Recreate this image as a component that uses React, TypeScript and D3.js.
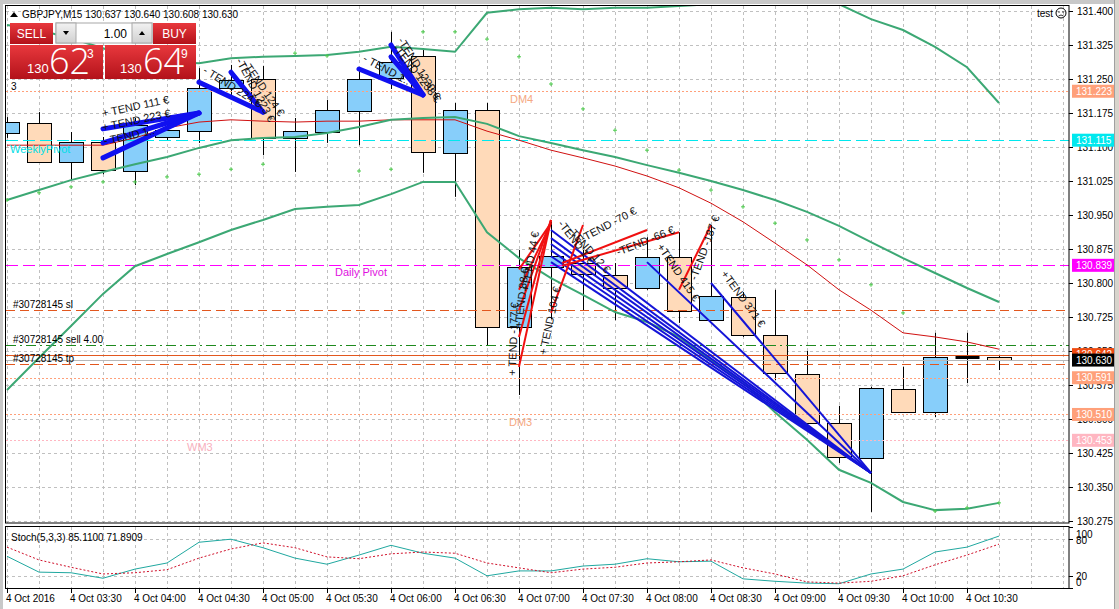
import React from 'react';
import * as d3 from 'd3';

const barTimes = ['03:00','03:15','03:30','03:45','04:00','04:15','04:30','04:45','05:00','05:15','05:30','05:45','06:00','06:15','06:30','06:45','07:00','07:15','07:30','07:45','08:00','08:15','08:30','08:45','09:00','09:15','09:30','09:45','10:00','10:15','10:30','10:45'];
const openP = [131.131,131.153,131.067,131.111,131.047,131.122,131.135,131.230,131.250,131.120,131.133,131.179,131.252,131.301,131.087,131.182,130.703,130.835,130.844,130.818,130.789,130.857,130.718,130.769,130.685,130.599,130.491,130.414,130.566,130.515,130.636,130.637];
const highP = [131.166,131.177,131.133,131.122,131.164,131.155,131.274,131.281,131.279,131.164,131.204,131.270,131.354,131.318,131.197,131.197,130.873,130.935,130.873,130.844,130.901,130.912,130.928,130.780,130.785,130.650,130.529,130.571,130.615,130.690,130.690,130.640];
const lowP = [131.120,131.065,131.027,131.040,131.016,131.115,131.109,131.215,131.082,131.045,131.109,131.104,131.228,131.043,130.990,130.663,130.553,130.720,130.740,130.718,130.785,130.712,130.718,130.681,130.586,130.476,130.403,130.295,130.515,130.504,130.579,130.608];
const closeP = [131.155,131.067,131.111,131.049,131.149,131.137,131.230,131.248,131.120,131.135,131.182,131.250,131.287,131.089,131.182,130.703,130.835,130.860,130.820,130.789,130.857,130.738,130.771,130.685,130.601,130.491,130.416,130.568,130.515,130.637,130.636,130.630];

const bbUpper = [131.369,131.358,131.340,131.318,131.296,131.288,131.285,131.296,131.299,131.301,131.303,131.310,131.321,131.316,131.310,131.396,131.404,131.407,131.404,131.407,131.407,131.411,131.415,131.422,131.426,131.431,131.415,131.382,131.358,131.321,131.276,131.197];
const bbMiddle = [130.983,131.005,131.027,131.045,131.062,131.078,131.098,131.115,131.120,131.122,131.131,131.144,131.160,131.164,131.166,131.151,131.124,131.109,131.093,131.078,131.060,131.043,131.025,131.005,130.983,130.957,130.926,130.890,130.855,130.822,130.789,130.758];
const bbLower = [130.564,130.635,130.705,130.776,130.837,130.864,130.890,130.917,130.939,130.963,130.968,130.972,130.996,131.023,131.023,130.912,130.855,130.811,130.774,130.736,130.714,130.681,130.630,130.582,130.515,130.454,130.388,130.359,130.317,130.299,130.302,130.315];
const maRed = [131.104,131.104,131.104,131.104,131.120,131.142,131.155,131.160,131.157,131.155,131.157,131.157,131.160,131.160,131.160,131.135,131.115,131.093,131.076,131.058,131.036,131.010,130.976,130.935,130.888,130.840,130.785,130.740,130.690,130.681,130.670,130.654];
const sarDots = [130.983,130.999,131.012,131.023,131.023,131.034,131.040,131.051,131.062,131.307,131.301,131.047,131.051,131.354,131.354,131.338,131.299,131.239,131.184,131.137,131.093,131.049,131.005,130.968,130.932,130.895,130.851,130.796,130.734,130.297,130.304,130.315];

const stochK = [52,26,25,16,31,41,75,80,66,49,39,54,70,57,49,20,28,28,36,39,48,43,44,15,11,8,7,23,31,59,67,85.11];
const stochD = [67,46,34,23,25,30,49,64,74,66,51,48,56,59,57,41,33,25,31,34,41,43,46,33,23,10,8,11,20,38,54,71.89];

const priceTicks = ['131.400','131.325','131.250','131.175','131.100','131.025','130.950','130.875','130.800','130.725','130.650','130.575','130.500','130.425','130.350','130.275'];
const timeTickBars = [0,2,4,6,8,10,12,14,16,18,20,22,24,26,28,30];
const timeTickLabels = ['4 Oct 2016','4 Oct 03:30','4 Oct 04:00','4 Oct 04:30','4 Oct 05:00','4 Oct 05:30','4 Oct 06:00','4 Oct 06:30','4 Oct 07:00','4 Oct 07:30','4 Oct 08:00','4 Oct 08:30','4 Oct 09:00','4 Oct 09:30','4 Oct 10:00','4 Oct 10:30'];

const levelValues = [131.223, 131.115, 130.839, 130.591, 130.510, 130.453];
const levelColors = ['#FFA07A', '#00E8EE', '#FF00FF', '#FFA07A', '#FFA07A', '#FFB6C1'];
const levelNames = ['DM4', 'WeeklyPivot', 'Daily Pivot', '', 'DM3', 'WM3'];

const orderValues = [130.740, 130.663, 130.621];
const orderNames = ['#30728145 sl', '#30728145 sell 4.00', '#30728145 tp'];
const askPrice = 130.642;
const bidPrice = 130.630;

// trend objects: [barFrom, priceFrom, barTo, priceTo]
const blueThick = [
  [3,131.140,6,131.175],[3,131.109,6,131.175],[3,131.076,6,131.175],
  [6,131.243,8,131.177],[7,131.265,8,131.177],
  [11,131.272,13,131.215],[12,131.325,13,131.215],[12,131.299,13,131.215],
];
const redTrend = [
  [16,130.615,17,130.939],[16,130.681,17,130.939],[16,130.740,17,130.939],[16,130.785,17,130.932],[16,130.830,17,130.932],
  [17,130.734,18,130.928],[17.35,130.844,20,130.917],[17.35,130.838,21,130.912],[21,130.785,22,130.928],
];
const blueTrend = [
  [17,130.917,27,130.381],[17,130.899,27,130.381],[17,130.886,27,130.381],[17,130.872,27,130.381],[17,130.859,27,130.381],[17,130.846,27,130.381],
  [20,130.846,27,130.381],[22,130.800,27,130.381],
];
// text objects: [bar, price, angle, text]
const tendTexts: [number, number, number, string][] = [
  [3,131.166,-12,'+ TEND 111 €'],[3,131.135,-12,'+ TEND 223 €'],[3.05,131.105,-12,'- TEND 1..'],
  [6.1,131.265,32,'- TEND 224 €'],[7.15,131.290,62,'-TEND 1223 €'],[7.35,131.282,55,'-TEND 124 €'],
  [11.1,131.290,28,'- TEND 1..'],[12.2,131.335,58,'-TEND 1230 €'],[12.05,131.318,52,'-TEND 1238 €'],
  [15.9,130.595,-88,'+ TEND -177 €'],[16.1,130.700,-84,'+TEND 88 €'],[16.3,130.780,-80,'+TEND 44 €'],
  [16.85,130.640,-78,'+ TEND 104 €'],[17.2,130.930,52,'-TEND 1 €'],[17.5,130.915,48,'-TEND 12 €'],
  [18.0,130.890,-28,'-TEND -70 €'],[19.1,130.860,-22,'-TEND -66 €'],
  [20.3,130.880,56,'+TEND 415 €'],[21.55,130.805,-70,'-TEND -187 €'],[22.3,130.820,54,'+TEND 371 €'],
];

const FONT = "'Liberation Sans', Arial, sans-serif";

export default function App() {
  const x = d3.scaleLinear().domain([0, 31]).range([7, 999]);
  const y = d3.scaleLinear().domain([130.275, 131.4]).range([521, 11]);
  const ys = d3.scaleLinear().domain([0, 100]).range([588, 527]);
  const L = 6, R = 1069, T = 6, B = 523;
  const pLine = (arr: number[]) => d3.line<number>().x((_, i) => x(i)).y(d => y(d))(arr) || '';
  const sLine = (arr: number[]) => d3.line<number>().x((_, i) => x(i)).y(d => ys(d))(arr) || '';
  const gridBars = d3.range(0, 34);

  const box = (v: number, bg: string, fg: string, key: string) => (
    <g key={key}>
      <rect x={1072} y={y(v) - 6.5} width={42} height={13} fill={bg} />
      <text x={1076} y={y(v) + 3.5} fill={fg} fontSize={10} fontFamily={FONT}>{v.toFixed(3)}</text>
    </g>
  );

  return (
    <svg width={1119} height={609} style={{ position: 'absolute', left: 0, top: 0, display: 'block' }} fontFamily={FONT}>
      <defs>
        <clipPath id="mainClip"><rect x={L} y={T} width={R - L} height={B - T} /></clipPath>
        <clipPath id="stochClip"><rect x={L} y={527} width={R - L} height={61} /></clipPath>
        <linearGradient id="redG" x1="0" y1="0" x2="0" y2="1">
          <stop offset="0" stopColor="#E8383D" />
          <stop offset="1" stopColor="#B3121A" />
        </linearGradient>
        <linearGradient id="grayG" x1="0" y1="0" x2="0" y2="1">
          <stop offset="0" stopColor="#F2F2F2" />
          <stop offset="1" stopColor="#D0D0D0" />
        </linearGradient>
      </defs>
      <rect x={0} y={0} width={1119} height={609} fill="#fff" />
      {/* window frame */}
      <rect x={0} y={0} width={1119} height={4} fill="#C8C8C8" />
      <rect x={0} y={0} width={3} height={609} fill="#C8C8C8" />
      <rect x={1114} y={0} width={5} height={609} fill="#D8D4CC" />
      <line x1={1114.5} x2={1114.5} y1={0} y2={609} stroke="#A0A0A0" />

      {/* main grid */}
      <g clipPath="url(#mainClip)">
        {priceTicks.map(t => (
          <line key={t} x1={L} x2={R} y1={Math.round(y(+t)) + 0.5} y2={Math.round(y(+t)) + 0.5} stroke="#C0C0C0" strokeDasharray="3,3" />
        ))}
        {gridBars.map(i => (
          <line key={i} x1={x(i) + 0.5} x2={x(i) + 0.5} y1={T} y2={B} stroke="#C0C0C0" strokeDasharray="3,3" />
        ))}
      </g>

      {/* candles */}
      <g clipPath="url(#mainClip)">
        {openP.map((o, i) => {
          const c = closeP[i];
          const cx = Math.round(x(i)) + 0.5;
          const top = Math.round(y(Math.max(o, c))) + 0.5;
          const bot = Math.round(y(Math.min(o, c))) + 0.5;
          const doji = Math.abs(c - o) < 0.002;
          return (
            <g key={barTimes[i]}>
              <line x1={cx} x2={cx} y1={y(highP[i])} y2={y(lowP[i])} stroke="#000" />
              {doji
                ? <line x1={cx - 12} x2={cx + 12} y1={top} y2={top} stroke="#000" strokeWidth={3} />
                : <rect x={cx - 12} y={top} width={24} height={Math.max(1, bot - top)} fill={c > o ? '#87CEFA' : '#FFDAB9'} stroke="#000" />}
            </g>
          );
        })}
      </g>

      {/* levels */}
      <g clipPath="url(#mainClip)">
        {levelValues.map((v, k) => (
          <line key={v} x1={L} x2={R} y1={Math.round(y(v)) + 0.5} y2={Math.round(y(v)) + 0.5}
            stroke={levelColors[k]} strokeWidth={1}
            strokeDasharray={levelNames[k].includes('Pivot') ? '12,5' : '2,2'} />
        ))}
        {orderValues.map((v, k) => (
          <line key={v} x1={L} x2={R} y1={Math.round(y(v)) + 0.5} y2={Math.round(y(v)) + 0.5}
            stroke={k === 1 ? '#1E8A1E' : '#E2571E'} strokeDasharray={k === 1 ? '10,4,2,4' : '9,5'} />
        ))}
        <line x1={L} x2={R} y1={Math.round(y(askPrice)) + 0.5} y2={Math.round(y(askPrice)) + 0.5} stroke="#E2571E" />
        <line x1={L} x2={R} y1={Math.round(y(bidPrice)) + 0.5} y2={Math.round(y(bidPrice)) + 0.5} stroke="#B8B8B8" />
      </g>

      {/* indicators */}
      <g clipPath="url(#mainClip)" fill="none">
        <path d={pLine(maRed)} stroke="#D01010" strokeWidth={1} />
        <path d={pLine(bbUpper)} stroke="#3CA874" strokeWidth={2} />
        <path d={pLine(bbMiddle)} stroke="#3CA874" strokeWidth={2} />
        <path d={pLine(bbLower)} stroke="#3CA874" strokeWidth={2} />
        {sarDots.map((v, i) => (
          <g key={i} stroke="#4CCB4C" strokeWidth={1}>
            <line x1={x(i) - 2} x2={x(i) + 2} y1={y(v)} y2={y(v)} />
            <line x1={x(i)} x2={x(i)} y1={y(v) - 2} y2={y(v) + 2} />
          </g>
        ))}
      </g>

      {/* trend annotations */}
      <g clipPath="url(#mainClip)">
        {blueTrend.map((t, k) => (
          <line key={'bt' + k} x1={x(t[0])} y1={y(t[1])} x2={x(t[2])} y2={y(t[3])} stroke="#1414D8" strokeWidth={2} />
        ))}
        {redTrend.map((t, k) => (
          <line key={'rt' + k} x1={x(t[0])} y1={y(t[1])} x2={x(t[2])} y2={y(t[3])} stroke="#F01010" strokeWidth={2} />
        ))}
        {blueThick.map((t, k) => (
          <line key={'bk' + k} x1={x(t[0])} y1={y(t[1])} x2={x(t[2])} y2={y(t[3])} stroke="#1010F0" strokeWidth={5} strokeLinecap="round" />
        ))}
        {tendTexts.map((t, k) => (
          <text key={'tx' + k} transform={`translate(${x(t[0])},${y(t[1])}) rotate(${t[2]})`} fontSize={11} fill="#111">{t[3]}</text>
        ))}
      </g>

      {/* level labels */}
      <g fontSize={11}>
        <text x={510} y={y(131.223) + 12} fill="#F5A882">DM4</text>
        <text x={10} y={y(131.115) + 13} fill="#00DDE5">WeeklyPivot</text>
        <text x={335} y={y(130.839) + 11} fill="#E010E0">Daily Pivot</text>
        <text x={509} y={y(130.510) + 12} fill="#F5A882">DM3</text>
        <text x={187} y={y(130.453) + 11} fill="#F7B0BE">WM3</text>
        {orderValues.map((v, k) => (
          <text key={k} x={13} y={y(v) - 2} fill="#000" fontSize={10}>{orderNames[k]}</text>
        ))}
      </g>

      {/* header & trade panel */}
      <g>
        <path d="M10,17 L14,12 L18,17 Z" fill="#000" />
        <text x={22} y={18} fontSize={10} fill="#000">GBPJPY,M15  130.637 130.640 130.608 130.630</text>
        <rect x={10} y={23} width={43} height={21} fill="url(#redG)" />
        <text x={31.5} y={38} fontSize={12} fill="#fff" textAnchor="middle">SELL</text>
        <rect x={56} y={23} width={96} height={20} fill="#fff" stroke="#A8A8A8" />
        <rect x={56} y={23} width={20} height={20} fill="url(#grayG)" stroke="#A8A8A8" />
        <rect x={132} y={23} width={20} height={20} fill="url(#grayG)" stroke="#A8A8A8" />
        <path d="M63,31 L69,31 L66,35 Z" fill="#000" />
        <path d="M139,35 L145,35 L142,31 Z" fill="#000" />
        <text x={127} y={38} fontSize={12} fill="#000" textAnchor="end">1.00</text>
        <rect x={153} y={23} width={43} height={21} fill="url(#redG)" />
        <text x={174.5} y={38} fontSize={12} fill="#fff" textAnchor="middle">BUY</text>
        <rect x={10} y={45} width={93} height={34} fill="url(#redG)" />
        <rect x={105} y={45} width={91} height={34} fill="url(#redG)" />
        <text x={27} y={73} fontSize={13} fill="#fff">130</text>
        <text x={49} y={74} fontSize={36} fill="#fff" fontFamily="'Open Sans', sans-serif" fontWeight={300}>62</text>
        <text x={87} y={58} fontSize={12} fill="#fff">3</text>
        <text x={120} y={73} fontSize={13} fill="#fff">130</text>
        <text x={143} y={74} fontSize={36} fill="#fff" fontFamily="'Open Sans', sans-serif" fontWeight={300}>64</text>
        <text x={181} y={58} fontSize={12} fill="#fff">9</text>
        <text x={11} y={90} fontSize={10} fill="#000">3</text>
        <text x={1037} y={17} fontSize={10} fill="#000">test</text>
        <circle cx={1061} cy={13} r={5} fill="none" stroke="#000" />
        <circle cx={1059} cy={12} r={0.7} fill="#000" />
        <circle cx={1063} cy={12} r={0.7} fill="#000" />
        <path d="M1058.5,16 Q1061,14 1063.5,16" fill="none" stroke="#000" strokeWidth={0.8} />
      </g>

      {/* main frame */}
      <rect x={5.5} y={5.5} width={R - 5.5} height={B - 5.5} fill="none" stroke="#000" />

      {/* price axis */}
      <g fontSize={10} fill="#000">
        {priceTicks.map(t => (
          <g key={t}>
            <line x1={R} x2={R + 4} y1={Math.round(y(+t)) + 0.5} y2={Math.round(y(+t)) + 0.5} stroke="#000" />
            <text x={1077} y={y(+t) + 4}>{t}</text>
          </g>
        ))}
        {levelValues.map((v, k) => box(v, levelColors[k], '#fff', 'lb' + k))}
        {box(askPrice, '#F04A10', '#fff', 'ask')}
        {box(bidPrice, '#000', '#fff', 'bid')}
      </g>

      {/* stochastic panel */}
      <g>
        <g clipPath="url(#stochClip)">
          {[80, 20].map(v => (
            <line key={v} x1={L} x2={R} y1={Math.round(ys(v)) + 0.5} y2={Math.round(ys(v)) + 0.5} stroke="#C0C0C0" strokeDasharray="3,3" />
          ))}
          {gridBars.map(i => (
            <line key={i} x1={x(i) + 0.5} x2={x(i) + 0.5} y1={527} y2={588} stroke="#C0C0C0" strokeDasharray="3,3" />
          ))}
          <path d={sLine(stochK)} fill="none" stroke="#20A8A0" strokeWidth={1} />
          <path d={sLine(stochD)} fill="none" stroke="#D0102A" strokeWidth={1} strokeDasharray="2,2" />
        </g>
        <rect x={5.5} y={526.5} width={R - 5.5} height={62} fill="none" stroke="#000" />
        <text x={11} y={541} fontSize={10} fill="#000">Stoch(5,3,3) 85.1100 71.8909</text>
        <text x={1076} y={538} fontSize={10}>100</text>
        <text x={1076} y={544} fontSize={10}>80</text>
        <text x={1076} y={580} fontSize={10}>20</text>
        <text x={1076} y={586} fontSize={10}>0</text>
        {[100, 80, 20, 0].map(v => (
          <line key={v} x1={R} x2={R + 4} y1={Math.round(ys(v)) + 0.5} y2={Math.round(ys(v)) + 0.5} stroke="#000" />
        ))}
      </g>

      {/* time axis */}
      <g fontSize={10} fill="#000">
        {timeTickBars.map((b, k) => (
          <g key={b}>
            <line x1={x(b) + 0.5} x2={x(b) + 0.5} y1={589} y2={593} stroke="#000" />
            <text x={x(b) - 1} y={602}>{timeTickLabels[k]}</text>
          </g>
        ))}
      </g>
    </svg>
  );
}
